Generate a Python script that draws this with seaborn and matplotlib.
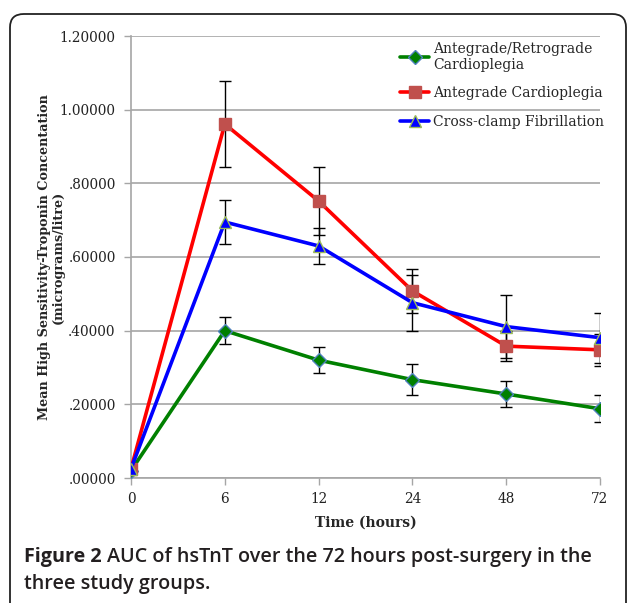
import numpy as np
import pandas as pd
import seaborn as sns
import matplotlib.pyplot as plt
from matplotlib.patches import FancyBboxPatch

times = ["0", "6", "12", "24", "48", "72"]
groups = ["Antegrade/Retrograde\nCardioplegia", "Antegrade Cardioplegia", "Cross-clamp Fibrillation"]

ante_retro = [0.020, 0.400, 0.320, 0.267, 0.228, 0.188]
ante_retro_err = [0.0, 0.037, 0.035, 0.042, 0.035, 0.037]
antegrade = [0.025, 0.961, 0.752, 0.508, 0.358, 0.348]
antegrade_err = [0.0, 0.117, 0.093, 0.059, 0.040, 0.044]
crossclamp = [0.025, 0.695, 0.630, 0.476, 0.411, 0.381]
crossclamp_err = [0.0, 0.059, 0.050, 0.076, 0.086, 0.068]

y_ticks = [0.0, 0.2, 0.4, 0.6, 0.8, 1.0, 1.2]

sns.set_theme(style="white")
plt.rcParams["font.family"] = ["DejaVu Serif"]

fig = plt.figure(figsize=(6.29, 6.03), dpi=100)
ax = fig.add_axes([131 / 629, 1 - 478 / 603, (600 - 131) / 629, (478 - 36) / 603])

# rounded frame around figure
frame = FancyBboxPatch((10 / 629, -0.05), (626 - 10) / 629, 1 - 14 / 603 + 0.05,
                       boxstyle="round,pad=0,rounding_size=0.022", transform=fig.transFigure,
                       facecolor="none", edgecolor="#222222", linewidth=1.3, zorder=0)
fig.patches.append(frame)

series = [
    (ante_retro, ante_retro_err, "#008000", "D", "#4F81BD", 7),
    (antegrade, antegrade_err, "#FF0000", "s", "#C0504D", 9),
    (crossclamp, crossclamp_err, "#0000FF", "^", "#9BBB59", 8.5),
]
pos = np.arange(len(times))

for label, (vals, errs, col, mk, edge, ms) in zip(groups, series):
    df = pd.DataFrame({"pos": pos, "value": vals})
    face = edge if mk == "s" else col
    sns.lineplot(data=df, x="pos", y="value", ax=ax, color=col, linewidth=2.6,
                 marker=mk, markersize=ms, markerfacecolor=face,
                 markeredgecolor=edge, markeredgewidth=1.0, label=label, zorder=3)
    ax.errorbar(pos[1:], vals[1:], yerr=errs[1:], fmt="none", ecolor="black",
                elinewidth=1.0, capsize=4, capthick=1.0, zorder=2.5)

ax.set_xlim(0, len(times) - 1)
ax.set_ylim(0, 1.2)
ax.set_xticks(pos)
ax.set_xticklabels(times)
ax.set_yticks(y_ticks)
ax.set_yticklabels(["." + f"{v:.5f}".split(".")[1] if v < 1 else f"{v:.5f}" for v in y_ticks])
ax.yaxis.grid(True, color="#a6a6a6", linewidth=1.2)
ax.xaxis.grid(False)
ax.set_axisbelow(True)
for s in ["top", "right"]:
    ax.spines[s].set_visible(False)
for s in ["left", "bottom"]:
    ax.spines[s].set_color("#a6a6a6")
    ax.spines[s].set_linewidth(1.2)
ax.tick_params(axis="both", which="major", length=5, width=1, color="#a6a6a6",
               labelsize=9.8, pad=6, direction="out", bottom=True, left=True,
               labelcolor="#222222")
ax.tick_params(axis="x", pad=5)
ax.set_xlabel("Time (hours)", fontsize=10, fontweight="bold", labelpad=7)
ax.set_ylabel("Mean High Sensitivity-Troponin Concentation\n(micrograms/litre)",
              fontsize=9.2, fontweight="bold", linespacing=1.05)
ax.yaxis.set_label_coords(-0.142, 0.5)

leg = ax.legend(loc="upper right", bbox_to_anchor=(1.02, 1.0), frameon=False,
                fontsize=10, handlelength=2.1, handletextpad=0.25, labelspacing=1.05,
                borderaxespad=0)

# caption
cap_font = ["Open Sans", "DejaVu Sans"]
t1 = fig.text(24 / 629, 1 - 557 / 603, "Figure 2", fontsize=14.2, fontweight="bold",
              family=cap_font, va="center", color="#231f20")
fig.canvas.draw()
bb = t1.get_window_extent().transformed(fig.transFigure.inverted())
fig.text(bb.x1 + 0.008, 1 - 557 / 603, "AUC of hsTnT over the 72 hours post-surgery in the",
         fontsize=14.2, fontweight="semibold", family=cap_font, va="center", color="#231f20")
fig.text(24 / 629, 1 - 584 / 603, "three study groups.", fontsize=14.2, fontweight="semibold",
         family=cap_font, va="center", color="#231f20")

fig.savefig("out.png", dpi=100, facecolor="white")
